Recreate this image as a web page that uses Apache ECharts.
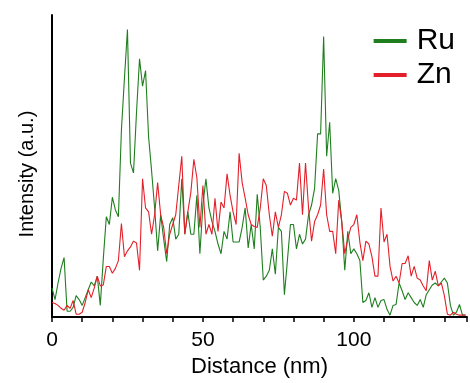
<!DOCTYPE html>
<html>
<head>
<meta charset="utf-8">
<script src="https://cdn.jsdelivr.net/npm/echarts@6/dist/echarts.min.js"></script>
<style>
html,body{margin:0;padding:0;background:#fff;}
#chart{width:470px;height:383px;}
</style>
</head>
<body>
<div id="chart"></div>
<script>
// Distance (nm), one sample per nm
var distance = [];
for (var i = 0; i <= 137; i++) distance.push(i);

var ruValues = [30,18,35,50,61,6,6,10,22,18,12,20,28,36,32,42,12,60,103,95,
  123,110,103,192,245,295,158,148,210,265,237,253,185,150,112,68,105,80,57,95,
  102,80,85,142,85,108,85,85,125,65,115,142,112,98,88,75,65,88,80,108,
  77,77,77,92,112,71,95,70,126,92,38,42,48,70,44,92,88,23,58,95,
  95,70,85,75,80,105,115,132,188,188,288,165,200,127,142,130,98,48,88,65,
  70,65,58,15,17,25,10,20,10,17,18,8,2,12,13,35,27,18,25,20,
  15,12,18,10,23,28,33,35,32,36,40,35,12,2,5,13,2,2];

var znValues = [15,14,12,9,7,12,9,17,3,3,5,15,28,20,30,42,32,33,52,52,
  45,50,58,96,62,68,72,78,76,48,142,112,108,85,105,138,105,92,65,85,
  95,105,135,165,85,108,128,162,143,92,135,85,95,85,122,88,118,112,147,125,
  108,95,168,138,122,105,95,93,92,112,142,135,105,83,108,92,105,129,127,115,
  122,120,158,105,158,112,78,98,105,115,152,105,88,88,65,120,98,65,80,92,
  95,105,77,58,78,75,62,42,42,112,77,85,52,37,42,35,55,55,63,42,
  52,40,38,32,27,58,38,47,32,35,22,3,2,5,3,2,2,2];

var xTickLabels = [0, 50, 100];
var seriesNames = ['Ru', 'Zn'];

function pairs(vals) {
  return vals.map(function (v, i) { return [distance[i], v]; });
}

var chart = echarts.init(document.getElementById('chart'), null, {renderer: 'canvas'});
var font = 'Liberation Sans, Arial, sans-serif';
chart.setOption({
  animation: false,
  backgroundColor: '#fff',
  grid: {left: 52, right: 0, top: 15, bottom: 58, containLabel: false},
  legend: {
    data: seriesNames,
    orient: 'vertical',
    right: 10,
    top: 21,
    icon: 'rect',
    itemWidth: 33,
    itemHeight: 4,
    itemGap: 4,
    textStyle: {fontFamily: font, fontSize: 30, color: '#000', padding: [0,0,0,5]}
  },
  xAxis: {
    type: 'value',
    min: 0,
    max: 137.5,
    interval: 10,
    name: 'Distance (nm)',
    nameLocation: 'middle',
    nameGap: 35,
    nameTextStyle: {fontFamily: font, fontSize: 22, color: '#000'},
    axisLine: {show: true, lineStyle: {color: '#000', width: 2}},
    axisTick: {show: true, length: 5, lineStyle: {color: '#000', width: 1.5}},
    axisLabel: {
      fontFamily: font, fontSize: 21, color: '#000', margin: 13,
      formatter: function (v) { return xTickLabels.indexOf(v) >= 0 ? String(v) : ''; }
    },
    splitLine: {show: false}
  },
  yAxis: {
    type: 'value',
    min: 0,
    max: 310,
    name: 'Intensity (a.u.)',
    nameLocation: 'middle',
    nameGap: 15,
    nameTextStyle: {fontFamily: font, fontSize: 20, color: '#000', padding: [0, 0, 0, 0], align: 'center'},
    axisLine: {show: true, lineStyle: {color: '#000', width: 2}},
    axisTick: {show: false},
    axisLabel: {show: false},
    splitLine: {show: false}
  },
  graphic: [],
  series: [
    {
      name: 'Ru', type: 'line', data: pairs(ruValues), symbol: 'none',
      lineStyle: {color: '#1f7f1f', width: 1.1}, itemStyle: {color: '#1f7f1f'}
    },
    {
      name: 'Zn', type: 'line', data: pairs(znValues), symbol: 'none',
      lineStyle: {color: '#e3202a', width: 1.1}, itemStyle: {color: '#e3202a'}
    }
  ]
});
// shift the y-axis title slightly below the axis midpoint, as in the reference
chart.setOption({yAxis: {nameTextStyle: {padding: [0, 16, 0, 0]}}});
</script>
</body>
</html>
